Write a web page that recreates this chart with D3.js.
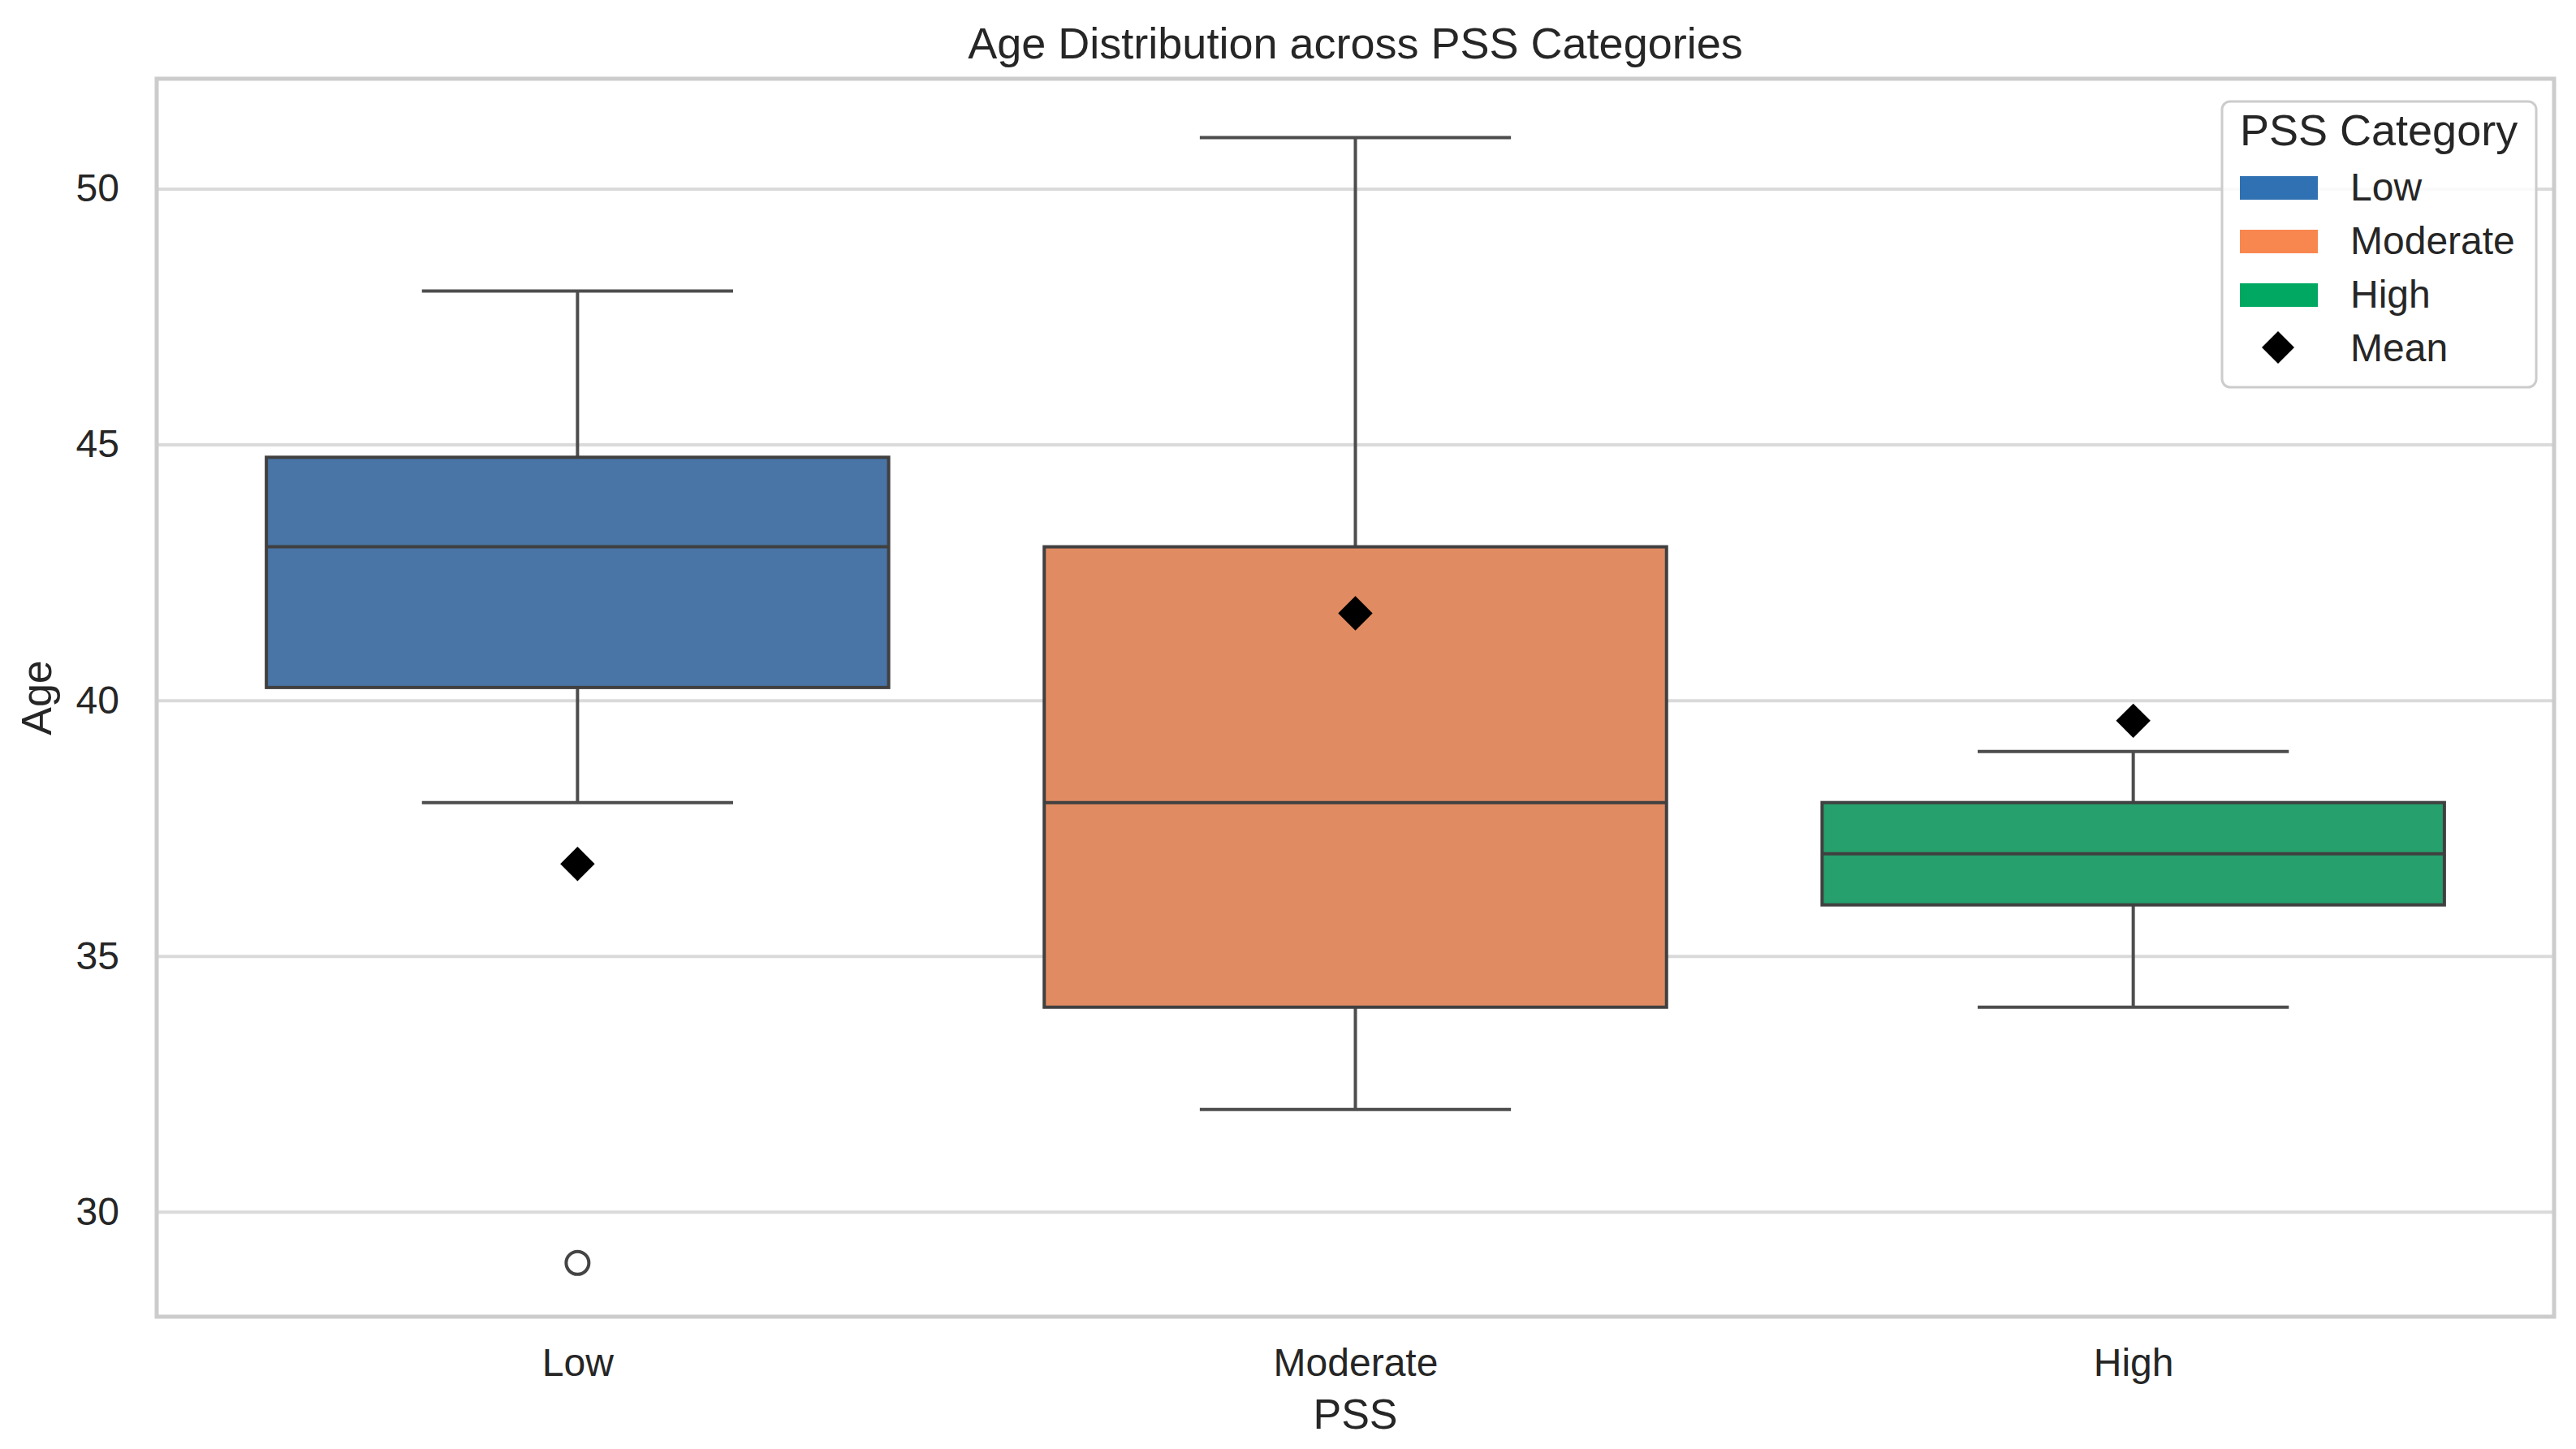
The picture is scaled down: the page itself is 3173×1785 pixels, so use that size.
<!DOCTYPE html>
<html>
<head>
<meta charset="utf-8">
<script src="https://cdn.jsdelivr.net/npm/d3@7"></script>
<style>
  body { margin: 0; background: #fff; }
  text { font-family: "Liberation Sans", Arial, sans-serif; fill: #262626; }
</style>
</head>
<body>
<svg id="chart" width="3173" height="1785"></svg>
<script>
// values
const categories = ["Low", "Moderate", "High"];
const whiskerLow = [38, 32, 34];
const q1 = [40.25, 34, 36];
const medians = [43, 38, 37];
const q3 = [44.75, 43, 38];
const whiskerHigh = [48, 51, 39];
const means = [36.8, 41.7, 39.6];
const outliers = [[29], [], []];
const yTicks = [30, 35, 40, 45, 50];

const boxColors = ["#4874a6", "#e08b62", "#26a06d"];
const legendColors = ["#3071b3", "#f8864f", "#00a862"];

const svg = d3.select("#chart");
const margin = {top: 97, right: 27, bottom: 163, left: 193};
const width = 3173, height = 1785;
const lineColor = "#4d4d4d";

const x = d3.scalePoint()
    .domain(categories)
    .range([margin.left, width - margin.right])
    .padding(0.541);
const boxW = x.step() * 0.8;

const y = d3.scaleLinear()
    .domain([27.95, 52.15])
    .range([height - margin.bottom, margin.top]);

// grid
svg.append("g")
    .attr("transform", `translate(${margin.left},0)`)
    .call(d3.axisLeft(y).tickValues(yTicks).tickSize(-(width - margin.left - margin.right)).tickFormat(""))
    .call(g => g.select(".domain").remove())
    .selectAll("line")
    .attr("stroke", "#dadada")
    .attr("stroke-width", 4);

// y tick labels
svg.append("g")
    .attr("transform", `translate(${margin.left},0)`)
    .call(d3.axisLeft(y).tickValues(yTicks).tickSize(0).tickPadding(46))
    .call(g => g.select(".domain").remove())
    .selectAll("text")
    .style("font-size", "48px")
    .style("font-family", "Liberation Sans, Arial, sans-serif")
    .attr("fill", "#262626");

// x tick labels
svg.append("g")
    .attr("transform", `translate(0,${height - margin.bottom})`)
    .call(d3.axisBottom(x).tickSize(0))
    .call(g => g.select(".domain").remove())
    .selectAll("text")
    .attr("y", 73)
    .attr("dy", 0)
    .style("font-size", "48px")
    .style("font-family", "Liberation Sans, Arial, sans-serif")
    .attr("fill", "#262626");

// frame
svg.append("rect")
    .attr("x", margin.left)
    .attr("y", margin.top)
    .attr("width", width - margin.left - margin.right)
    .attr("height", height - margin.top - margin.bottom)
    .attr("fill", "none")
    .attr("stroke", "#cccccc")
    .attr("stroke-width", 5);

const stats = categories.map((c, i) => ({
    cat: c, lo: whiskerLow[i], q1: q1[i], med: medians[i], q3: q3[i],
    hi: whiskerHigh[i], mean: means[i], out: outliers[i], color: boxColors[i]
}));

const boxes = svg.append("g").selectAll("g")
    .data(stats)
    .join("g");

// whiskers
boxes.append("line")
    .attr("x1", d => x(d.cat)).attr("x2", d => x(d.cat))
    .attr("y1", d => y(d.q3)).attr("y2", d => y(d.hi))
    .attr("stroke", lineColor).attr("stroke-width", 4);
boxes.append("line")
    .attr("x1", d => x(d.cat)).attr("x2", d => x(d.cat))
    .attr("y1", d => y(d.q1)).attr("y2", d => y(d.lo))
    .attr("stroke", lineColor).attr("stroke-width", 4);
// caps
boxes.selectAll(".cap")
    .data(d => [d.lo, d.hi].map(v => ({cat: d.cat, v})))
    .join("line")
    .attr("class", "cap")
    .attr("x1", d => x(d.cat) - boxW / 4).attr("x2", d => x(d.cat) + boxW / 4)
    .attr("y1", d => y(d.v)).attr("y2", d => y(d.v))
    .attr("stroke", lineColor).attr("stroke-width", 4);
// box
boxes.append("rect")
    .attr("x", d => x(d.cat) - boxW / 2)
    .attr("width", boxW)
    .attr("y", d => y(d.q3))
    .attr("height", d => y(d.q1) - y(d.q3))
    .attr("fill", d => d.color)
    .attr("stroke", "#404040")
    .attr("stroke-width", 4);
// median
boxes.append("line")
    .attr("x1", d => x(d.cat) - boxW / 2).attr("x2", d => x(d.cat) + boxW / 2)
    .attr("y1", d => y(d.med)).attr("y2", d => y(d.med))
    .attr("stroke", "#404040").attr("stroke-width", 4);
// outliers
boxes.selectAll(".flier")
    .data(d => d.out.map(v => ({cat: d.cat, v})))
    .join("circle")
    .attr("class", "flier")
    .attr("cx", d => x(d.cat)).attr("cy", d => y(d.v))
    .attr("r", 14)
    .attr("fill", "none")
    .attr("stroke", "#444")
    .attr("stroke-width", 4);

const diamond = d3.symbol().type(d3.symbolSquare).size(900);
// means
boxes.append("path")
    .attr("d", diamond)
    .attr("transform", d => `translate(${x(d.cat)},${y(d.mean)}) rotate(45)`)
    .attr("fill", "#000");

// title and axis labels
svg.append("text")
    .attr("x", (margin.left + width - margin.right) / 2)
    .attr("y", 72)
    .attr("text-anchor", "middle")
    .style("font-size", "54px")
    .text("Age Distribution across PSS Categories");

svg.append("text")
    .attr("x", (margin.left + width - margin.right) / 2)
    .attr("y", 1760)
    .attr("text-anchor", "middle")
    .style("font-size", "52px")
    .text("PSS");

svg.append("text")
    .attr("transform", `translate(63,${(margin.top + height - margin.bottom) / 2}) rotate(-90)`)
    .attr("text-anchor", "middle")
    .style("font-size", "52px")
    .text("Age");

// legend
const legend = svg.append("g").attr("transform", "translate(2737,125)");
legend.append("rect")
    .attr("width", 387).attr("height", 352)
    .attr("rx", 10)
    .attr("fill", "#fff").attr("fill-opacity", 0.85)
    .attr("stroke", "#cccccc").attr("stroke-width", 3);
legend.append("text")
    .attr("x", 22).attr("y", 54)
    .style("font-size", "54px")
    .text("PSS Category");

const items = legend.selectAll(".item")
    .data(categories.concat(["Mean"]))
    .join("g")
    .attr("class", "item")
    .attr("transform", (d, i) => `translate(0,${122 + i * 66})`);

items.filter(d => d !== "Mean").append("rect")
    .attr("x", 22).attr("y", -30)
    .attr("width", 96).attr("height", 29)
    .attr("fill", (d, i) => legendColors[i]);

items.filter(d => d === "Mean").append("path")
    .attr("d", d3.symbol().type(d3.symbolSquare).size(800))
    .attr("transform", "translate(69,-17) rotate(45)")
    .attr("fill", "#000");

items.append("text")
    .attr("x", 158).attr("y", 0)
    .style("font-size", "48px")
    .text(d => d);
</script>
</body>
</html>
